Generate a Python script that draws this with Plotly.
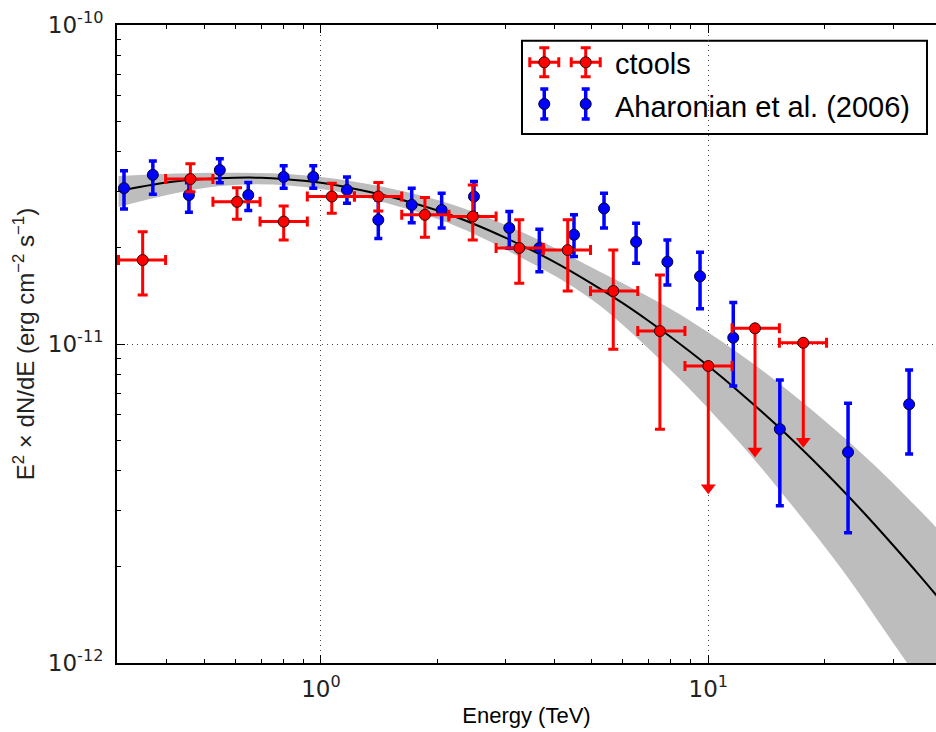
import plotly.graph_objects as go

# ---------------- data ----------------
# Aharonian et al. (2006): energy (TeV), E^2 dN/dE and error bounds (erg cm^-2 s^-1)
aha_e = [0.310, 0.368, 0.456, 0.548, 0.649, 0.801, 0.955, 1.167, 1.406, 1.715, 2.049, 2.483,
         3.063, 3.662, 4.50, 5.38, 6.51, 7.84, 9.52, 11.6, 15.3, 22.95, 33.0]
aha_f = [3.08e-11, 3.39e-11, 2.93e-11, 3.51e-11, 2.93e-11, 3.34e-11, 3.34e-11, 3.04e-11, 2.45e-11,
         2.73e-11, 2.63e-11, 2.90e-11, 2.31e-11, 2.00e-11, 2.20e-11, 2.66e-11, 2.09e-11, 1.81e-11,
         1.63e-11, 1.047e-11, 5.41e-12, 4.58e-12, 6.47e-12]
aha_hi = [3.49e-11, 3.75e-11, 3.20e-11, 3.81e-11, 3.21e-11, 3.62e-11, 3.62e-11, 3.34e-11, 2.83e-11,
          3.08e-11, 2.97e-11, 3.23e-11, 2.60e-11, 2.29e-11, 2.54e-11, 2.97e-11, 2.39e-11, 2.12e-11,
          1.94e-11, 1.35e-11, 7.71e-12, 6.52e-12, 8.29e-12]
aha_lo = [2.65e-11, 2.95e-11, 2.59e-11, 3.20e-11, 2.62e-11, 3.08e-11, 3.08e-11, 2.76e-11, 2.14e-11,
          2.40e-11, 2.31e-11, 2.56e-11, 1.995e-11, 1.685e-11, 1.88e-11, 2.31e-11, 1.79e-11, 1.53e-11,
          1.29e-11, 7.38e-12, 3.11e-12, 2.56e-12, 4.52e-12]

# ctools: energy bin edges (TeV)
ct_edges = [0.3, 0.397, 0.526, 0.696, 0.922, 1.22, 1.616, 2.139, 2.832, 3.75, 4.965, 6.574,
            8.704, 11.52, 15.26, 20.2]
# ctools detections
ct_e = [0.3464, 0.460, 0.607, 0.801, 1.066, 1.406, 1.855, 2.465, 3.25, 4.335, 5.684, 7.50]
ct_f = [1.833e-11, 3.29e-11, 2.79e-11, 2.42e-11, 2.90e-11, 2.90e-11, 2.54e-11, 2.51e-11,
        2.00e-11, 1.97e-11, 1.466e-11, 1.098e-11]
ct_hi = [2.25e-11, 3.67e-11, 3.09e-11, 2.71e-11, 3.19e-11, 3.21e-11, 2.88e-11, 3.15e-11,
         2.45e-11, 2.45e-11, 1.97e-11, 1.645e-11]
ct_lo = [1.424e-11, 3.00e-11, 2.46e-11, 2.12e-11, 2.57e-11, 2.61e-11, 2.16e-11, 2.12e-11,
         1.55e-11, 1.466e-11, 9.63e-12, 5.40e-12]
# ctools upper limits
ul_e = [10.0, 13.2, 17.59]
ul_f = [8.53e-12, 1.12e-11, 1.009e-11]
ul_end = [3.54e-12, 4.62e-12, 4.96e-12]

# model curve (log-parabola fit)
model_e = [0.3, 0.4, 0.5, 0.6, 0.7, 0.8, 1.0, 1.2, 1.5, 2.0, 2.5, 3.0, 4.0, 5.0, 6.0, 7.0, 8.0,
           10.0, 12.0, 15.0, 20.0, 25.0, 30.0, 35.0, 40.0]
model_f = [3.02e-11, 3.21e-11, 3.29e-11, 3.32e-11, 3.32e-11, 3.29e-11, 3.20e-11, 3.08e-11,
           2.90e-11, 2.62e-11, 2.37e-11, 2.15e-11, 1.81e-11, 1.547e-11, 1.345e-11, 1.183e-11,
           1.052e-11, 8.53e-12, 7.09e-12, 5.57e-12, 3.97e-12, 2.99e-12, 2.34e-12, 1.89e-12,
           1.56e-12]
# model uncertainty band
band_e = [0.3, 0.55, 1.0, 2.0, 3.3, 5.0, 8.0, 12.0, 16.0, 22.0, 29.0, 38.7, 40.0]
band_hi = [3.36e-11, 3.44e-11, 3.34e-11, 2.83e-11, 2.245e-11, 1.737e-11, 1.287e-11, 9.34e-12,
           7.18e-12, 5.19e-12, 3.81e-12, 2.67e-12, 2.56e-12]
band_lo = [2.69e-11, 3.13e-11, 3.06e-11, 2.465e-11, 1.861e-11, 1.378e-11, 8.28e-12, 4.93e-12,
           3.25e-12, 1.985e-12, 1.229e-12, 7.38e-13, 6.94e-13]

x_ticks = [1, 10]
x_ticktext = ["10<sup>0</sup>", "10<sup>1</sup>"]
y_ticks = [1e-12, 1e-11, 1e-10]
y_ticktext = ["10<sup>-12</sup>", "10<sup>-11</sup>", "10<sup>-10</sup>"]
x_minor = [0.4, 0.5, 0.6, 0.7, 0.8, 0.9, 2, 3, 4, 5, 6, 7, 8, 9, 20, 30]
y_minor = [k * 1e-12 for k in range(2, 10)] + [k * 1e-11 for k in range(2, 10)]

legend_labels = ["ctools", "Aharonian et al. (2006)"]

# ---------------- figure ----------------
RED = "#ff0000"
BLUE = "#0000ff"
RED_EDGE = "#330000"
BLUE_EDGE = "#000033"

fig = go.Figure()

fig.add_trace(go.Scatter(
    x=band_e + band_e[::-1], y=band_hi + band_lo[::-1],
    mode="lines", fill="toself", fillcolor="#bdbdbd",
    line=dict(width=0, shape="spline", color="#bdbdbd"),
    showlegend=False, hoverinfo="skip"))

fig.add_trace(go.Scatter(
    x=model_e, y=model_f, mode="lines",
    line=dict(color="black", width=2, shape="spline"),
    showlegend=False))

fig.add_trace(go.Scatter(
    x=aha_e, y=aha_f, mode="markers", name=legend_labels[1], showlegend=False,
    marker=dict(color=BLUE, size=11, line=dict(color=BLUE_EDGE, width=1)),
    error_y=dict(type="data", symmetric=False,
                 array=[h - f for h, f in zip(aha_hi, aha_f)],
                 arrayminus=[f - l for f, l in zip(aha_f, aha_lo)],
                 color=BLUE, thickness=3.5, width=4)))

ct_emin = ct_edges[:len(ct_e)]
ct_emax = ct_edges[1:len(ct_e) + 1]
fig.add_trace(go.Scatter(
    x=ct_e, y=ct_f, mode="markers", name=legend_labels[0], showlegend=False,
    marker=dict(color=RED, size=11, line=dict(color=RED_EDGE, width=1)),
    error_x=dict(type="data", symmetric=False,
                 array=[b - e for b, e in zip(ct_emax, ct_e)],
                 arrayminus=[e - a for e, a in zip(ct_e, ct_emin)],
                 color=RED, thickness=3, width=5),
    error_y=dict(type="data", symmetric=False,
                 array=[h - f for h, f in zip(ct_hi, ct_f)],
                 arrayminus=[f - l for f, l in zip(ct_f, ct_lo)],
                 color=RED, thickness=3, width=5)))

ul_emin = ct_edges[len(ct_e):len(ct_e) + len(ul_e)]
ul_emax = ct_edges[len(ct_e) + 1:len(ct_e) + len(ul_e) + 1]
fig.add_trace(go.Scatter(
    x=ul_e, y=ul_end, mode="markers", showlegend=False, hoverinfo="skip",
    marker=dict(symbol="triangle-down", color=RED, size=13, line=dict(width=0))))
fig.add_trace(go.Scatter(
    x=ul_e, y=ul_f, mode="markers", showlegend=False,
    marker=dict(color=RED, size=11, line=dict(color=RED_EDGE, width=1)),
    error_x=dict(type="data", symmetric=False,
                 array=[b - e for b, e in zip(ul_emax, ul_e)],
                 arrayminus=[e - a for e, a in zip(ul_e, ul_emin)],
                 color=RED, thickness=3, width=5),
    error_y=dict(type="data", symmetric=False,
                 array=[0 for _ in ul_f],
                 arrayminus=[f - u for f, u in zip(ul_f, ul_end)],
                 color=RED, thickness=3, width=0)))

# ---- legend (matplotlib style: two error-bar glyphs per entry), in axes-fraction coords ----
glyph_x = [0.5217, 0.5723]
row_y = [0.9415, 0.8762]
text_y = [0.9389, 0.872]
fig.add_trace(go.Scatter(
    x=glyph_x, y=[row_y[0]] * 2, xaxis="x2", yaxis="y2", mode="markers",
    showlegend=False, hoverinfo="skip",
    marker=dict(color=RED, size=11, line=dict(color=RED_EDGE, width=1)),
    error_x=dict(type="constant", value=0.0177, color=RED, thickness=3, width=5),
    error_y=dict(type="constant", value=0.0227, color=RED, thickness=3, width=5)))
fig.add_trace(go.Scatter(
    x=glyph_x, y=[row_y[1]] * 2, xaxis="x2", yaxis="y2", mode="markers",
    showlegend=False, hoverinfo="skip",
    marker=dict(color=BLUE, size=11, line=dict(color=BLUE_EDGE, width=1)),
    error_y=dict(type="constant", value=0.0235, color=BLUE, thickness=3.5, width=4)))

fig.add_shape(type="rect", xref="paper", yref="paper",
              x0=0.4945, x1=0.989, y0=0.8292, y1=0.9754,
              line=dict(color="black", width=2), fillcolor="white", layer="between")
for lab, ty in zip(legend_labels, text_y):
    fig.add_annotation(xref="paper", yref="paper", x=0.606, y=ty, text=lab,
                       showarrow=False, xanchor="left", yanchor="middle",
                       font=dict(size=29, color="black",
                                 family="Liberation Sans, Arial, sans-serif"))

fig.update_layout(
    width=936, height=732,
    margin=dict(l=117, r=0, t=25, b=69),
    paper_bgcolor="white", plot_bgcolor="white",
    font=dict(family="Liberation Sans, Arial, sans-serif", color="black"),
    showlegend=False,
    xaxis=dict(
        type="log", range=[-0.5267, 1.5879], automargin=False,
        tickmode="array", tickvals=x_ticks, ticktext=x_ticktext,
        ticks="inside", ticklen=8, tickwidth=1, tickcolor="black",
        tickfont=dict(family="DejaVu Sans", size=23, color="#222"),
        ticklabelstandoff=4,
        showline=True, linewidth=2, linecolor="black", mirror="allticks",
        showgrid=True, gridcolor="#444", gridwidth=1, griddash="1px,4px",
        zeroline=False,
        minor=dict(tickmode="array", tickvals=x_minor, ticks="inside", ticklen=4,
                   tickcolor="black", showgrid=False),
        title=dict(text="Energy (TeV)", font=dict(size=22, color="black"), standoff=7),
    ),
    yaxis=dict(
        type="log", range=[-12, -10], automargin=False,
        tickmode="array", tickvals=y_ticks, ticktext=y_ticktext,
        ticks="inside", ticklen=8, tickwidth=1, tickcolor="black",
        tickfont=dict(family="DejaVu Sans", size=23, color="#222"),
        ticklabelstandoff=7,
        showline=True, linewidth=2, linecolor="black", mirror=False,
        showgrid=True, gridcolor="#444", gridwidth=1, griddash="1px,4px",
        zeroline=False,
        minor=dict(tickmode="array", tickvals=y_minor, ticks="inside", ticklen=4,
                   tickcolor="black", showgrid=False),
        title=dict(text="E<sup>2</sup> × dN/dE (erg cm<sup>−2</sup> s<sup>−1</sup>)",
                   font=dict(size=24, color="#222"), standoff=6),
    ),
    xaxis2=dict(overlaying="x", range=[0, 1], visible=False, domain=[0, 1]),
    yaxis2=dict(overlaying="y", range=[0, 1], visible=False, domain=[0, 1]),
)

fig.write_html("out.html", config={"displayModeBar": False},
               post_script="document.body.style.margin='0px';")
